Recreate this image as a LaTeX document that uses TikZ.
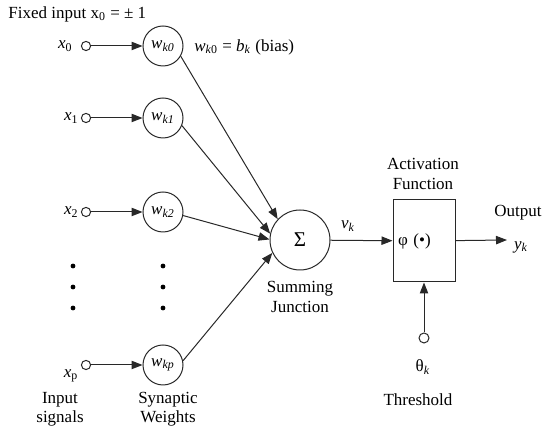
\documentclass[tikz,border=0pt]{standalone}
\usepackage{fontspec}
\setmainfont{Liberation Serif}
\usetikzlibrary{positioning,calc}
\usetikzlibrary{arrows.meta}
\definecolor{LineGray}{RGB}{40,40,40}
\tikzset{
  port/.style={circle,draw=LineGray,fill=white,line width=0.5pt,inner sep=0pt,minimum size=4.6pt},
  wgt/.style={circle,draw=LineGray,line width=0.5pt,inner sep=0pt,minimum size=20pt},
  sumnode/.style={circle,draw=LineGray,line width=0.5pt,inner sep=0pt,minimum size=30pt,
    font=\fontsize{10.5}{12}\selectfont},
  actbox/.style={draw=LineGray,line width=0.5pt,minimum width=31pt,minimum height=41pt,
    inner sep=2.5pt,text width=26pt,align=left},
  lbl/.style={inner sep=0pt,align=center},
  sig/.style={draw=LineGray,line width=0.5pt,-{Triangle[length=5.5pt,width=4.2pt]}},
  every node/.style={font=\fontsize{8.5}{9.6}\selectfont},
}

\begin{document}
\begin{tikzpicture}[x=0.5pt,y=-0.5pt]
\useasboundingbox (0,0) rectangle (542,431);
\node[lbl,anchor=west] (fixed) at (8,14) {Fixed input x\textsubscript{0} = ± 1};
% inputs and weights
\foreach \i/\yy in {0/46,1/118,2/212,p/365}{
  \node[port] (x\i) at (86,\yy) {};
  \node[wgt] (w\i) at (163,\yy) {\textit{w\textsubscript{k\i}}};
  \draw[sig] (x\i) -- (w\i);
}
\node[lbl,left=4pt of x0] (lx0) {\textit{x}\textsubscript{0}};
\node[lbl,left=1pt of x1] (lx1) {\textit{x}\textsubscript{1}};
\node[lbl,left=1pt of x2] (lx2) {\textit{x}\textsubscript{2}};
\node[lbl] (lxp) at (71,376) {\textit{x}\textsubscript{p}};
\node[lbl,anchor=west] (bias) at (194,47) {\textit{w}\textsubscript{\textit{k}0} = \textit{b}\textsubscript{\textit{k}} (bias)};
% dots
\foreach \yy in {266,287,308}{
  \fill (73,\yy) circle (1.2pt);
  \fill (163,\yy) circle (1.2pt);
}
% summing junction
\node[sumnode] (sum) at (300,240) {Σ};
\draw[sig] (w0.-30) -- (sum.137);
\draw[sig] (w1.-22) -- (sum.168);
\draw[sig] (w2.-10) -- (sum.179);
\draw[sig] (wp.12) -- (sum.205);
\node[lbl] (sumlbl) at (300,297) {Summing\\Junction};
% activation
\node[actbox] (act) at (424,241) {φ (•)};
\node[lbl] (actlbl) at (423,174) {Activation\\Function};
\draw[sig] (sum) -- (act);
\node[lbl] (vk) at (348,226) {\textit{v\textsubscript{k}}};
\coordinate (out) at (507,240);
\draw[sig] (act) -- (out);
\node[lbl,anchor=west] (outlbl) at (494,213) {Output};
\node[lbl] (yk) at (521,247) {\textit{y\textsubscript{k}}};
% threshold
\node[port,minimum size=5pt] (thr) at (424,338) {};
\draw[sig] (thr) -- (act);
\node[lbl] (theta) at (423,367) {θ\textsubscript{\textit{k}}};
\node[lbl] (thrlbl) at (418,400) {Threshold};
% bottom captions
\node[lbl] (inlbl) at (60,409) {Input\\signals};
\node[lbl] (synlbl) at (168,409) {Synaptic\\Weights};
\end{tikzpicture}
\end{document}
